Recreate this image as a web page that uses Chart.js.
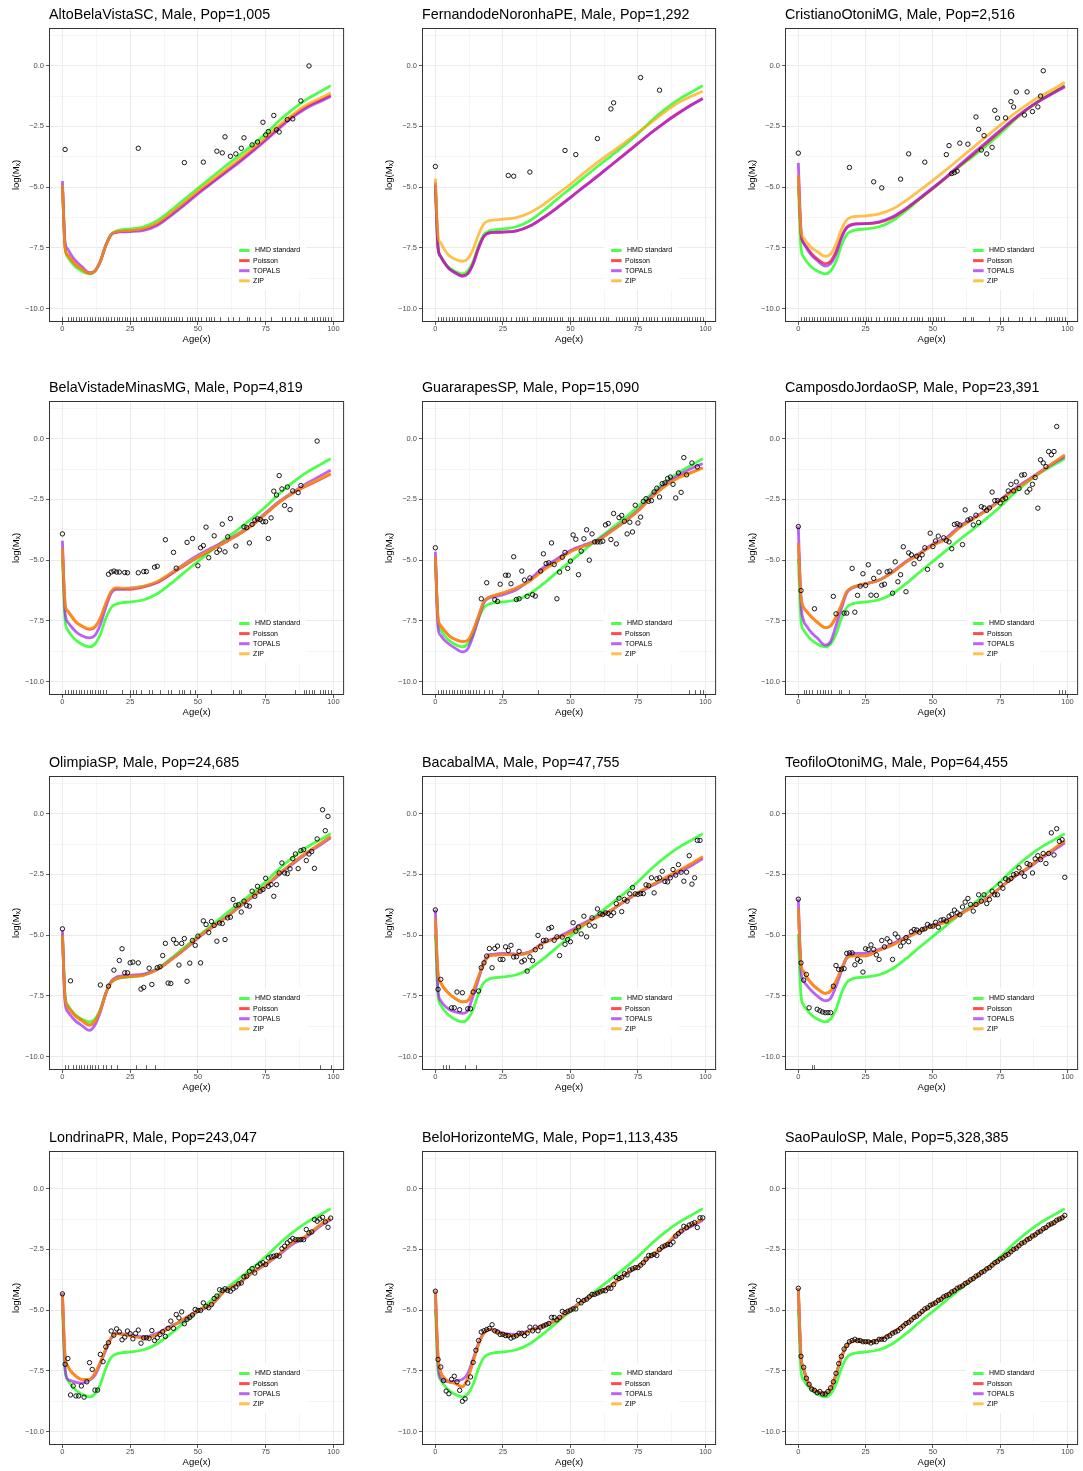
<!DOCTYPE html>
<html>
<head>
<meta charset="utf-8">
<script src="https://cdn.jsdelivr.net/npm/chart.js@4.4.1/dist/chart.umd.min.js"></script>
<style>
  html, body { margin: 0; padding: 0; background: #fff; }
  #wrap { position: relative; width: 1083px; height: 1471px; overflow: hidden; }
  #wrap canvas { position: absolute; }
</style>
</head>
<body>
<div id="wrap"></div>
<script>
// ---- data ----
const titles = [
  "AltoBelaVistaSC, Male, Pop=1,005",
  "FernandodeNoronhaPE, Male, Pop=1,292",
  "CristianoOtoniMG, Male, Pop=2,516",
  "BelaVistadeMinasMG, Male, Pop=4,819",
  "GuararapesSP, Male, Pop=15,090",
  "CamposdoJordaoSP, Male, Pop=23,391",
  "OlimpiaSP, Male, Pop=24,685",
  "BacabalMA, Male, Pop=47,755",
  "TeofiloOtoniMG, Male, Pop=64,455",
  "LondrinaPR, Male, Pop=243,047",
  "BeloHorizonteMG, Male, Pop=1,113,435",
  "SaoPauloSP, Male, Pop=5,328,385"
];
const seriesNames = [" HMD standard", "Poisson", "TOPALS", "ZIP"];
const xTicks = [0, 12.5, 25, 37.5, 50, 62.5, 75, 87.5, 100];
const yTicks = [-10, -8.75, -7.5, -6.25, -5, -3.75, -2.5, -1.25, 0, 1.25];

// ages at which the fitted curves were read
const curveAges = [0,1,2,3,5,7,10,12,14,16,18,20,22,25,30,35,40,45,50,55,60,65,70,75,80,85,90,95,99];
const hmdStandard = [-4.95,-7.5,-7.88,-8.05,-8.3,-8.45,-8.57,-8.45,-8.05,-7.4,-6.95,-6.8,-6.75,-6.72,-6.63,-6.38,-5.97,-5.5,-5.05,-4.6,-4.15,-3.72,-3.28,-2.8,-2.27,-1.8,-1.4,-1.08,-0.82];

// 1 AltoBelaVistaSC
const p1Poisson = [-4.9,-7.5,-7.8,-7.95,-8.2,-8.35,-8.55,-8.45,-8.05,-7.4,-6.95,-6.85,-6.82,-6.8,-6.73,-6.52,-6.12,-5.68,-5.22,-4.8,-4.37,-3.95,-3.5,-3.03,-2.53,-2.07,-1.7,-1.43,-1.22];
const p1Topals  = [-4.75,-7.3,-7.55,-7.75,-8.05,-8.25,-8.52,-8.45,-8.05,-7.4,-6.95,-6.86,-6.84,-6.83,-6.78,-6.58,-6.18,-5.74,-5.28,-4.85,-4.42,-4.0,-3.55,-3.08,-2.58,-2.12,-1.75,-1.48,-1.27];
const p1Zip     = [-4.9,-7.5,-7.8,-7.95,-8.2,-8.35,-8.55,-8.45,-8.05,-7.4,-6.95,-6.83,-6.8,-6.78,-6.7,-6.47,-6.06,-5.62,-5.15,-4.72,-4.3,-3.87,-3.42,-2.95,-2.45,-2.0,-1.62,-1.34,-1.12];
const p1Points = [[1,-3.45],[28,-3.4],[45,-3.99],[52,-3.97],[57,-3.52],[59,-3.59],[60,-2.93],[62,-3.73],[64,-3.63],[66,-3.4],[67,-2.97],[70,-3.26],[72,-3.14],[74,-2.33],[75,-2.85],[76,-2.71],[78,-2.05],[79,-2.64],[80,-2.73],[83,-2.22],[85,-2.19],[88,-1.45],[91,-0.01]];
const p1Rug = [0,2,3,4,5,6,7,8,9,10,11,12,13,14,15,16,17,18,19,20,21,22,23,24,25,26,27,29,30,31,32,33,34,35,36,37,38,39,40,41,42,43,44,46,47,48,49,50,51,53,54,55,56,58,61,63,65,68,69,71,73,77,81,82,84,86,87,89,90,92,93,94,95,96,97,98,99];

// 2 FernandodeNoronhaPE
const p2Poisson = [-4.9,-7.5,-7.85,-8.05,-8.35,-8.5,-8.65,-8.55,-8.15,-7.5,-7.02,-6.88,-6.86,-6.85,-6.8,-6.6,-6.25,-5.85,-5.42,-4.98,-4.55,-4.1,-3.65,-3.2,-2.75,-2.33,-1.95,-1.6,-1.35];
const p2Topals  = [-4.8,-7.5,-7.85,-8.05,-8.35,-8.5,-8.67,-8.57,-8.15,-7.5,-7.02,-6.88,-6.86,-6.85,-6.8,-6.6,-6.26,-5.86,-5.43,-4.99,-4.56,-4.11,-3.66,-3.21,-2.76,-2.34,-1.96,-1.61,-1.36];
const p2Zip     = [-4.65,-7.0,-7.3,-7.5,-7.8,-7.95,-8.05,-7.95,-7.55,-6.95,-6.5,-6.38,-6.35,-6.32,-6.25,-6.05,-5.72,-5.3,-4.88,-4.42,-3.98,-3.58,-3.18,-2.76,-2.33,-1.9,-1.52,-1.25,-1.05];
const p2Points = [[0,-4.15],[27,-4.52],[29,-4.55],[35,-4.38],[48,-3.49],[52,-3.66],[60,-3.0],[65,-1.78],[66,-1.53],[76,-0.49],[83,-1.01]];
const p2Rug = [1,2,3,4,5,6,7,8,9,10,11,12,13,14,15,16,17,18,19,20,21,22,23,24,25,26,28,30,31,32,33,34,36,37,38,39,40,41,42,43,44,45,46,47,49,50,51,53,54,55,56,57,58,59,61,62,63,64,67,68,69,70,71,72,73,74,75,77,78,79,80,81,82,84,85,86,87,88,89,90,91,92,93,94,95,96,97,98,99];

// 3 CristianoOtoniMG
const p3Poisson = [-4.5,-6.9,-7.3,-7.45,-7.75,-7.95,-8.15,-8.05,-7.65,-7.05,-6.65,-6.53,-6.5,-6.5,-6.45,-6.25,-5.9,-5.48,-5.05,-4.6,-4.12,-3.65,-3.18,-2.7,-2.22,-1.8,-1.43,-1.1,-0.85];
const p3Topals  = [-4.0,-6.8,-7.3,-7.5,-7.82,-8.02,-8.25,-8.15,-7.75,-7.1,-6.68,-6.55,-6.52,-6.5,-6.43,-6.22,-5.87,-5.45,-5.02,-4.57,-4.08,-3.6,-3.13,-2.66,-2.2,-1.78,-1.42,-1.12,-0.88];
const p3Zip     = [-4.5,-6.8,-7.1,-7.25,-7.5,-7.65,-7.85,-7.75,-7.35,-6.75,-6.35,-6.22,-6.2,-6.18,-6.1,-5.9,-5.55,-5.14,-4.72,-4.28,-3.82,-3.36,-2.9,-2.45,-2.0,-1.6,-1.25,-0.95,-0.68];
const p3Points = [[0,-3.6],[19,-4.19],[28,-4.78],[31,-5.03],[38,-4.67],[41,-3.63],[47,-3.97],[55,-3.66],[56,-3.29],[57,-4.44],[58,-4.4],[59,-4.34],[60,-3.19],[63,-3.23],[66,-2.11],[67,-2.62],[68,-3.47],[69,-2.88],[70,-3.63],[72,-3.36],[73,-1.84],[74,-2.16],[77,-2.15],[79,-1.48],[80,-1.7],[81,-1.08],[84,-2.03],[85,-1.08],[87,-1.89],[89,-1.7],[90,-1.25],[91,-0.21]];
const p3Rug = [1,2,3,4,5,6,7,8,9,10,11,12,13,14,15,16,17,18,20,21,22,23,24,25,26,27,29,30,32,33,34,35,36,37,39,40,42,43,44,45,46,48,49,50,51,52,53,54,61,62,64,65,71,75,76,78,82,83,86,88,92,93,94,95,96,97,98,99];

// 4 BelaVistadeMinasMG
const p4Poisson = [-4.5,-6.8,-7.1,-7.25,-7.55,-7.7,-7.85,-7.75,-7.4,-6.8,-6.3,-6.15,-6.18,-6.2,-6.1,-5.92,-5.58,-5.22,-4.88,-4.57,-4.27,-3.95,-3.57,-3.1,-2.62,-2.25,-1.95,-1.68,-1.45];
const p4Topals  = [-4.2,-7.2,-7.55,-7.7,-7.95,-8.1,-8.2,-8.1,-7.65,-6.95,-6.35,-6.2,-6.2,-6.15,-6.08,-5.9,-5.55,-5.15,-4.8,-4.5,-4.22,-3.9,-3.52,-3.05,-2.58,-2.2,-1.85,-1.55,-1.3];
const p4Zip     = [-4.5,-6.8,-7.1,-7.25,-7.55,-7.7,-7.82,-7.72,-7.38,-6.78,-6.28,-6.13,-6.15,-6.15,-6.07,-5.88,-5.53,-5.18,-4.86,-4.55,-4.25,-3.92,-3.55,-3.08,-2.6,-2.22,-1.92,-1.65,-1.42];
const p4Points = [[0,-3.92],[17,-5.58],[18,-5.49],[19,-5.45],[20,-5.49],[21,-5.49],[23,-5.51],[24,-5.52],[28,-5.52],[30,-5.47],[31,-5.47],[34,-5.29],[35,-5.25],[38,-4.16],[41,-4.68],[42,-5.33],[46,-4.27],[48,-4.11],[50,-5.23],[51,-4.49],[52,-4.4],[53,-3.64],[54,-4.9],[56,-4.0],[57,-4.68],[58,-4.58],[59,-3.52],[60,-4.66],[61,-4.04],[62,-3.29],[64,-4.42],[67,-3.63],[68,-3.66],[69,-4.29],[70,-3.53],[71,-3.36],[72,-3.3],[73,-3.33],[74,-3.42],[75,-3.42],[76,-4.11],[77,-3.26],[78,-2.16],[79,-2.32],[80,-1.52],[81,-2.07],[82,-2.75],[83,-1.99],[84,-2.92],[85,-2.15],[87,-2.22],[88,-1.93],[94,-0.1]];
const p4Rug = [1,2,3,4,5,6,7,8,9,10,11,12,13,14,15,16,22,25,26,27,29,32,33,36,39,40,43,44,45,47,49,55,63,65,66,86,89,90,91,92,93,95,96,97,98,99];

// 5 GuararapesSP (index = age, null = no death)
const p5Poisson = [-4.85,-7.4,-7.7,-7.85,-8.1,-8.25,-8.35,-8.3,-7.9,-7.3,-6.7,-6.52,-6.45,-6.35,-6.15,-5.85,-5.4,-5.05,-4.65,-4.42,-4.2,-3.82,-3.42,-2.98,-2.42,-1.95,-1.6,-1.38,-1.2];
const p5Topals  = [-4.65,-7.8,-8.1,-8.25,-8.45,-8.6,-8.78,-8.65,-8.1,-7.4,-6.75,-6.55,-6.5,-6.42,-6.22,-5.8,-5.3,-4.95,-4.6,-4.38,-4.17,-3.8,-3.42,-2.95,-2.35,-1.88,-1.5,-1.22,-1.02];
const p5Zip     = [-4.85,-7.4,-7.7,-7.85,-8.1,-8.25,-8.36,-8.3,-7.9,-7.3,-6.7,-6.52,-6.45,-6.35,-6.15,-5.86,-5.42,-5.06,-4.66,-4.42,-4.2,-3.82,-3.42,-2.98,-2.43,-1.96,-1.62,-1.4,-1.22];
const p5Rates = [-4.49,null,null,null,null,null,null,null,null,null,null,null,null,null,null,null,null,-6.59,null,-5.93,null,null,-6.63,-6.7,-5.99,null,-5.62,-5.62,-5.97,-4.86,-6.62,-6.59,-5.45,-5.82,-6.49,-5.73,-6.42,-6.48,null,-5.45,-4.74,-5.14,-5.11,-4.29,-5.18,-6.59,-5.49,-4.88,-4.68,-5.34,-5.04,-3.96,-4.14,-5.6,-4.63,-4.12,-3.75,-5.0,-3.92,-4.25,-4.25,-4.25,-4.22,-3.55,-3.49,-4.15,-3.08,-4.33,-3.25,-3.16,-3.4,-3.92,-3.44,-3.84,-2.74,-3.47,-3.23,-2.58,-2.47,-2.58,-2.55,-2.19,-2.04,-2.4,-1.85,-1.82,-1.64,-1.58,-1.88,-2.44,-1.41,-2.21,-0.78,-1.49,null,-1.0,null,-1.16,null,null];
const p5Rug = [1,2,3,4,5,6,7,8,9,10,11,12,13,14,15,16,18,20,21,25,38,94,96,98,99];

// 6 CamposdoJordaoSP
const p6Poisson = [-4.3,-6.5,-6.95,-7.1,-7.35,-7.55,-7.78,-7.7,-7.35,-6.85,-6.3,-6.12,-6.05,-5.97,-5.82,-5.5,-5.08,-4.75,-4.38,-4.12,-3.65,-3.3,-2.95,-2.55,-2.12,-1.75,-1.38,-0.98,-0.68];
const p6Topals  = [-3.6,-6.8,-7.5,-7.7,-8.0,-8.2,-8.5,-8.35,-7.7,-7.0,-6.35,-6.15,-6.07,-5.98,-5.82,-5.48,-5.05,-4.72,-4.33,-4.08,-3.6,-3.27,-2.92,-2.52,-2.08,-1.72,-1.35,-1.0,-0.75];
const p6Zip     = [-4.3,-6.5,-6.95,-7.1,-7.35,-7.55,-7.77,-7.69,-7.34,-6.84,-6.3,-6.12,-6.05,-5.97,-5.82,-5.5,-5.08,-4.75,-4.38,-4.12,-3.66,-3.31,-2.95,-2.56,-2.13,-1.76,-1.38,-0.98,-0.66];
const p6Rates = [-3.62,-6.25,null,null,null,null,-7.0,null,null,null,null,null,null,-6.49,-7.21,null,null,-7.18,-7.18,null,-5.34,-7.14,-6.45,-6.07,-5.56,-6.04,-5.19,-6.44,-5.75,-6.45,-5.49,-6.03,-5.99,-5.48,-5.45,-6.36,-5.07,-5.89,-5.6,-4.45,-6.3,-4.7,-4.78,-5.15,-4.84,-4.93,-4.78,-4.49,-5.38,-3.89,-4.44,-4.21,-4.01,-5.21,-4.08,-4.19,-4.25,-4.53,-3.53,-3.5,-3.55,-4.36,-2.93,-3.35,-3.3,-3.55,-3.15,-3.45,-2.8,-2.85,-2.95,-2.85,-2.2,-2.55,-2.55,-2.65,-2.5,-2.45,-2.15,-1.88,-2.15,-1.78,-2.05,-1.5,-1.48,-2.2,-2.08,-1.88,-1.6,-2.86,-0.87,-1.0,-1.15,-0.53,-0.66,-0.53,0.5,null,null,null];
const p6Rug = [2,3,4,5,7,8,9,10,11,12,15,16,19,97,98,99];

// 7 OlimpiaSP
const p7Poisson = [-5.0,-7.6,-7.95,-8.1,-8.35,-8.5,-8.7,-8.55,-8.1,-7.4,-6.95,-6.78,-6.73,-6.7,-6.65,-6.42,-6.02,-5.58,-5.1,-4.68,-4.3,-3.85,-3.42,-2.97,-2.47,-2.02,-1.62,-1.25,-0.95];
const p7Topals  = [-4.8,-7.8,-8.15,-8.3,-8.55,-8.7,-8.92,-8.7,-8.15,-7.4,-6.9,-6.72,-6.68,-6.65,-6.6,-6.4,-6.02,-5.6,-5.12,-4.7,-4.3,-3.87,-3.45,-3.0,-2.52,-2.07,-1.65,-1.3,-1.0];
const p7Zip     = [-5.0,-7.6,-7.95,-8.1,-8.35,-8.5,-8.69,-8.54,-8.1,-7.4,-6.95,-6.78,-6.73,-6.7,-6.65,-6.42,-6.02,-5.58,-5.1,-4.68,-4.3,-3.85,-3.42,-2.97,-2.47,-2.02,-1.62,-1.25,-0.94];
const p7Rates = [-4.74,null,null,-6.88,null,null,null,null,null,null,null,null,null,null,-7.05,null,null,-7.1,null,-6.44,null,-6.04,-5.56,-6.55,-6.55,-6.14,-6.11,null,-6.14,-7.22,-7.15,null,-6.36,-7.03,null,-6.34,-6.3,-5.84,-5.34,-6.97,-6.99,-5.18,-5.34,-6.23,-5.34,-5.14,-6.9,-6.15,-5.22,-5.42,-5.04,-6.14,-4.41,-4.56,-4.89,-4.44,-4.6,-5.25,-4.5,-4.52,-5.18,-4.29,-4.26,-3.53,-3.77,-3.75,-4.05,-3.6,-3.78,-3.81,-3.19,-3.4,-2.99,-3.19,-3.12,-2.66,-2.99,-2.92,-3.4,-2.92,-2.44,-2.03,-2.44,-2.47,-2.27,-1.85,-1.66,-2.26,-1.52,-1.48,-1.93,-1.66,-1.56,-2.25,-1.04,null,0.16,-0.7,-0.11,null];
const p7Rug = [1,2,4,5,6,7,8,9,10,11,12,13,15,16,18,20,27,31,34,95,99];

// 8 BacabalMA
const p8Poisson = [-4.3,-6.6,-6.95,-7.15,-7.4,-7.58,-7.75,-7.7,-7.3,-6.7,-6.15,-5.85,-5.82,-5.8,-5.8,-5.7,-5.32,-5.12,-4.9,-4.55,-4.25,-3.98,-3.6,-3.25,-2.95,-2.65,-2.35,-2.05,-1.78];
const p8Topals  = [-3.95,-7.3,-7.7,-7.85,-8.05,-8.15,-8.22,-8.1,-7.5,-6.8,-6.1,-5.8,-5.78,-5.75,-5.78,-5.68,-5.3,-5.1,-4.82,-4.5,-4.22,-3.98,-3.62,-3.27,-2.98,-2.7,-2.42,-2.12,-1.85];
const p8Zip     = [-4.3,-6.6,-6.95,-7.15,-7.4,-7.58,-7.74,-7.69,-7.3,-6.7,-6.15,-5.85,-5.82,-5.8,-5.8,-5.7,-5.33,-5.13,-4.9,-4.55,-4.26,-3.98,-3.6,-3.25,-2.95,-2.65,-2.35,-2.04,-1.76];
const p8Rates = [-3.96,-7.23,-6.82,null,null,null,-7.99,-7.99,-7.34,-8.07,-7.37,null,-8.03,-8.03,-7.34,null,-7.3,-6.34,-6.14,-5.86,-5.55,-6.34,-5.55,-5.45,-6.0,-6.0,-5.48,-5.63,-5.42,-5.9,-5.89,-5.67,-6.1,-6.03,-6.48,-5.89,-6.05,-5.6,-5.01,-5.48,-5.22,-5.21,-4.73,-4.68,-5.21,-5.07,-5.84,-5.08,-5.38,-5.18,-5.27,-4.49,-4.84,-4.66,-4.95,-4.22,-5.07,-4.59,-4.29,-4.63,-3.92,-4.12,-4.15,-4.08,-4.11,-4.19,-4.08,-3.7,-3.48,-4.03,-3.53,-3.6,-3.3,-3.04,-3.3,-3.32,-3.29,-3.29,-2.93,-2.96,-2.64,-3.26,-2.68,-2.64,-2.37,-2.79,-2.81,-2.64,-2.3,-2.53,-2.1,-2.41,-2.78,-2.41,-1.73,-2.9,-2.64,-1.1,-1.1,null];
const p8Rug = [3,4,5,11,15];

// 9 TeofiloOtoniMG
const p9Poisson = [-3.9,-6.2,-6.5,-6.7,-7.0,-7.2,-7.4,-7.3,-6.9,-6.4,-5.95,-5.85,-5.85,-5.85,-5.62,-5.4,-5.12,-4.85,-4.62,-4.45,-4.15,-3.82,-3.5,-3.05,-2.6,-2.25,-1.82,-1.45,-1.12];
const p9Topals  = [-3.5,-6.5,-6.9,-7.05,-7.3,-7.5,-7.7,-7.6,-7.1,-6.5,-5.9,-5.75,-5.75,-5.75,-5.58,-5.35,-5.08,-4.82,-4.58,-4.4,-4.12,-3.8,-3.48,-3.05,-2.62,-2.28,-1.87,-1.5,-1.2];
const p9Zip     = [-3.9,-6.2,-6.5,-6.7,-7.0,-7.2,-7.39,-7.29,-6.9,-6.4,-5.95,-5.85,-5.85,-5.84,-5.62,-5.4,-5.12,-4.85,-4.62,-4.45,-4.15,-3.82,-3.5,-3.05,-2.6,-2.25,-1.82,-1.44,-1.1];
const p9Rates = [-3.52,-6.14,-6.85,-6.62,-7.99,null,null,-8.05,-8.11,-8.16,-8.19,-8.19,-8.19,-7.1,-6.25,-6.41,-6.4,-6.38,-5.75,-5.73,-5.73,-6.22,-6.0,-6.08,-6.52,-5.56,-5.59,-5.4,-5.59,-5.81,-6.0,-5.22,-5.48,-5.15,-5.27,-6.0,-4.95,-5.08,-5.45,-5.29,-5.1,-5.27,-4.86,-4.77,-4.79,-4.88,-4.77,-4.74,-4.56,-4.63,-4.63,-4.47,-4.67,-4.38,-4.36,-4.42,-4.22,-4.15,-3.97,-4.08,-4.16,-3.84,-3.64,-3.49,-3.74,-4.01,-3.74,-3.34,-3.6,-3.34,-3.7,-3.53,-3.19,-3.34,-3.34,-2.9,-3.07,-2.68,-2.74,-2.67,-2.51,-2.47,-2.23,-2.44,-2.58,-2.05,-2.1,-2.44,-1.86,-1.73,-1.89,-1.64,-2.05,-1.64,-0.79,-1.7,-0.62,-1.14,-1.07,-2.62];
const p9Rug = [5,6];

// 10 LondrinaPR
const p10Poisson = [-4.35,-6.9,-7.3,-7.5,-7.72,-7.85,-7.85,-7.6,-7.15,-6.6,-6.15,-5.95,-6.0,-6.05,-6.15,-6.0,-5.7,-5.35,-5.02,-4.77,-4.2,-3.9,-3.45,-3.1,-2.68,-2.22,-1.95,-1.5,-1.22];
const p10Topals  = [-4.3,-7.4,-7.85,-7.9,-7.97,-8.0,-7.88,-7.68,-7.2,-6.65,-6.15,-5.95,-5.98,-6.02,-6.1,-5.95,-5.65,-5.42,-5.05,-4.78,-4.2,-3.92,-3.47,-3.12,-2.72,-2.28,-2.0,-1.55,-1.28];
const p10Zip     = [-4.35,-6.9,-7.3,-7.5,-7.72,-7.85,-7.85,-7.6,-7.15,-6.6,-6.15,-5.95,-6.0,-6.05,-6.15,-6.0,-5.7,-5.35,-5.02,-4.77,-4.2,-3.9,-3.45,-3.1,-2.68,-2.22,-1.95,-1.5,-1.21];
const p10Rates = [-4.33,-7.23,-6.99,-8.49,-8.12,-8.53,-8.53,-8.12,-8.58,-7.95,-7.16,-7.44,-8.29,-8.29,-6.82,-7.12,-6.51,-6.34,-5.86,-6.03,-5.77,-5.89,-6.22,-6.11,-5.86,-5.97,-6.18,-5.96,-5.82,-6.36,-6.14,-6.14,-6.16,-5.84,-6.25,-6.14,-6.0,-5.89,-6.08,-5.75,-5.45,-5.75,-5.18,-5.32,-5.07,-5.56,-5.38,-5.3,-5.2,-4.97,-5.01,-5.01,-4.7,-4.84,-4.9,-4.77,-4.52,-4.42,-4.16,-4.19,-4.12,-4.19,-4.22,-4.12,-4.05,-3.92,-3.88,-3.63,-3.6,-3.4,-3.29,-3.47,-3.19,-3.1,-3.05,-3.12,-2.85,-2.81,-2.78,-2.75,-2.78,-2.47,-2.37,-2.23,-2.14,-2.05,-2.1,-2.1,-2.1,-2.1,-1.68,-1.82,-1.78,-1.27,-1.34,-1.25,-1.18,-1.37,-1.59,-1.21];
const p10Rug = [];

// 11 BeloHorizonteMG
const p11Poisson = [-4.2,-6.9,-7.55,-7.75,-7.95,-8.0,-8.15,-7.8,-7.1,-6.4,-5.95,-5.8,-5.85,-6.0,-6.05,-5.85,-5.65,-5.4,-5.0,-4.6,-4.3,-4.0,-3.55,-3.2,-2.75,-2.35,-1.8,-1.5,-1.25];
const p11Topals  = [-4.2,-7.2,-7.8,-7.9,-7.95,-7.92,-7.85,-7.6,-7.0,-6.35,-5.92,-5.78,-5.82,-5.95,-6.0,-5.82,-5.62,-5.38,-4.98,-4.58,-4.28,-3.98,-3.55,-3.22,-2.78,-2.38,-1.85,-1.55,-1.3];
const p11Zip     = [-4.2,-6.9,-7.55,-7.75,-7.95,-8.0,-8.14,-7.8,-7.1,-6.4,-5.95,-5.8,-5.85,-6.0,-6.05,-5.85,-5.65,-5.4,-5.0,-4.6,-4.3,-4.0,-3.55,-3.2,-2.75,-2.35,-1.8,-1.5,-1.24];
const p11Rates = [-4.22,-7.03,-7.34,-7.9,-8.33,-8.44,-7.85,-7.72,-7.95,-8.3,-8.75,-8.65,-8.0,-7.75,-7.15,-6.65,-6.25,-5.9,-5.85,-5.8,-5.75,-5.6,-5.85,-5.9,-6.0,-6.0,-6.05,-6.05,-6.15,-6.1,-6.05,-5.95,-5.95,-6.05,-5.95,-5.7,-5.85,-5.7,-5.85,-5.7,-5.65,-5.6,-5.55,-5.3,-5.3,-5.4,-5.3,-5.05,-5.1,-5.05,-5.0,-4.95,-4.95,-4.6,-4.7,-4.6,-4.55,-4.45,-4.35,-4.35,-4.3,-4.25,-4.2,-4.2,-4.1,-4.1,-3.95,-3.65,-3.7,-3.65,-3.5,-3.55,-3.35,-3.3,-3.25,-3.25,-3.15,-3.05,-2.9,-2.75,-2.75,-2.7,-2.75,-2.5,-2.4,-2.35,-2.3,-2.3,-2.2,-1.95,-1.85,-1.75,-1.55,-1.6,-1.5,-1.45,-1.4,-1.6,-1.2,-1.2];
const p11Rug = [];

// 12 SaoPauloSP
const p12Poisson = [-4.1,-6.9,-7.4,-7.8,-8.2,-8.35,-8.42,-8.25,-7.65,-6.95,-6.45,-6.28,-6.25,-6.3,-6.22,-5.92,-5.55,-5.15,-4.75,-4.4,-4.05,-3.7,-3.3,-2.9,-2.5,-2.1,-1.75,-1.4,-1.12];
const p12Topals  = [-4.1,-6.95,-7.45,-7.85,-8.22,-8.37,-8.43,-8.25,-7.65,-6.95,-6.45,-6.28,-6.25,-6.3,-6.22,-5.92,-5.55,-5.15,-4.75,-4.4,-4.05,-3.7,-3.3,-2.9,-2.5,-2.1,-1.75,-1.4,-1.13];
const p12Zip     = [-4.1,-6.9,-7.4,-7.8,-8.2,-8.35,-8.42,-8.25,-7.65,-6.95,-6.45,-6.28,-6.25,-6.3,-6.22,-5.92,-5.55,-5.15,-4.75,-4.4,-4.05,-3.7,-3.3,-2.9,-2.5,-2.1,-1.75,-1.4,-1.11];
const p12Rates = [-4.1,-6.9,-7.35,-7.8,-8.05,-8.25,-8.3,-8.4,-8.35,-8.45,-8.45,-8.35,-8.2,-7.95,-7.6,-7.2,-6.9,-6.6,-6.45,-6.3,-6.25,-6.2,-6.25,-6.25,-6.3,-6.3,-6.3,-6.35,-6.3,-6.3,-6.2,-6.2,-6.2,-6.1,-6.05,-5.95,-5.9,-5.85,-5.75,-5.65,-5.55,-5.5,-5.4,-5.3,-5.25,-5.15,-5.05,-4.95,-4.9,-4.8,-4.75,-4.7,-4.6,-4.55,-4.45,-4.4,-4.35,-4.25,-4.2,-4.1,-4.05,-4.0,-3.9,-3.85,-3.75,-3.7,-3.6,-3.55,-3.45,-3.4,-3.3,-3.25,-3.15,-3.05,-3.0,-2.9,-2.85,-2.75,-2.7,-2.6,-2.5,-2.45,-2.35,-2.25,-2.2,-2.1,-2.05,-1.95,-1.9,-1.8,-1.75,-1.65,-1.6,-1.5,-1.45,-1.4,-1.3,-1.25,-1.2,-1.1];
const p12Rug = [];

// ---- assemble ----
const fits = [
  [p1Poisson, p1Topals, p1Zip], [p2Poisson, p2Topals, p2Zip], [p3Poisson, p3Topals, p3Zip],
  [p4Poisson, p4Topals, p4Zip], [p5Poisson, p5Topals, p5Zip], [p6Poisson, p6Topals, p6Zip],
  [p7Poisson, p7Topals, p7Zip], [p8Poisson, p8Topals, p8Zip], [p9Poisson, p9Topals, p9Zip],
  [p10Poisson, p10Topals, p10Zip], [p11Poisson, p11Topals, p11Zip], [p12Poisson, p12Topals, p12Zip]
];
const pairsToXY = arr => arr.map(p => ({x: p[0], y: p[1]}));
const ratesToXY = arr => arr.map((v, age) => v === null ? null : {x: age, y: v}).filter(Boolean);
const observed = [
  pairsToXY(p1Points), pairsToXY(p2Points), pairsToXY(p3Points), pairsToXY(p4Points),
  ratesToXY(p5Rates), ratesToXY(p6Rates), ratesToXY(p7Rates), ratesToXY(p8Rates),
  ratesToXY(p9Rates), ratesToXY(p10Rates), ratesToXY(p11Rates), ratesToXY(p12Rates)
];
const rugs = [p1Rug, p2Rug, p3Rug, p4Rug, p5Rug, p6Rug, p7Rug, p8Rug, p9Rug, p10Rug, p11Rug, p12Rug];

const COLORS = ["rgba(0,255,0,0.7)", "rgba(255,0,0,0.7)", "rgba(160,32,240,0.7)", "rgba(255,165,0,0.7)"];
const FONT = '"Liberation Sans", Arial, Helvetica, sans-serif';
Chart.defaults.font.family = FONT;

const colLeft = [0, 373, 736];
const colWidth = [349, 348, 347];
const rowTop = [0, 373, 748, 1123];
const CANVAS_H = 348;

const xMajor = v => Math.abs(v % 25) < 1e-6;
const yMajor = v => Math.abs(v % 2.5) < 1e-6;
const fmtY = v => v.toFixed(1).replace("-", "\u2212");

// titles, axis titles, border, rug and in-panel legend
const panelDecor = {
  id: "panelDecor",
  afterDatasetsDraw(chart, args, opts) {
    const ctx = chart.ctx;
    const {left, right, top, bottom} = chart.chartArea;
    const xs = chart.scales.x;
    ctx.save();
    ctx.strokeStyle = "rgba(30,30,30,0.9)";
    ctx.lineWidth = 0.8;
    ctx.beginPath();
    opts.rug.forEach(a => {
      const px = Math.round(xs.getPixelForValue(a)) + 0.5;
      ctx.moveTo(px, bottom);
      ctx.lineTo(px, bottom - 4.8);
    });
    ctx.stroke();
    ctx.strokeStyle = "#333333";
    ctx.lineWidth = 1;
    ctx.strokeRect(left + 0.5, top + 0.5, right - left - 1, bottom - top - 1);
    ctx.restore();
  },
  afterDraw(chart, args, opts) {
    const ctx = chart.ctx;
    const {left, right, top, bottom} = chart.chartArea;
    ctx.save();
    // legend box
    ctx.fillStyle = "#ffffff";
    ctx.fillRect(right - 112, bottom - 82, 74, 50);
    const labels = chart.data.datasets.slice(1).map(d => d.label).reverse();
    labels.forEach((lab, i) => {
      const y = bottom - 71.5 + i * 10.1;
      ctx.strokeStyle = COLORS[i];
      ctx.lineWidth = 3;
      ctx.beginPath();
      ctx.moveTo(right - 105, y);
      ctx.lineTo(right - 94.5, y);
      ctx.stroke();
      ctx.fillStyle = "#000";
      ctx.font = "7px " + FONT;
      ctx.textAlign = "left";
      ctx.textBaseline = "middle";
      ctx.fillText(lab, right - 91, y);
    });
    // panel title
    ctx.fillStyle = "#000";
    ctx.font = "14.3px " + FONT;
    ctx.textAlign = "left";
    ctx.textBaseline = "alphabetic";
    ctx.fillText(opts.title, left, top - 9);
    // x axis title
    ctx.font = "9.5px " + FONT;
    ctx.textAlign = "center";
    ctx.textBaseline = "middle";
    ctx.fillText("Age(x)", (left + right) / 2, bottom + 17);
    // y axis title with subscript x
    ctx.translate(left - 33, (top + bottom) / 2);
    ctx.rotate(-Math.PI / 2);
    ctx.textAlign = "left";
    ctx.textBaseline = "middle";
    ctx.font = "9.5px " + FONT;
    const w1 = ctx.measureText("log(M").width;
    ctx.font = "6.5px " + FONT;
    const w2 = ctx.measureText("x").width;
    ctx.font = "9.5px " + FONT;
    const w3 = ctx.measureText(")").width;
    const x0 = -(w1 + w2 + w3) / 2;
    ctx.fillText("log(M", x0, 0);
    ctx.font = "6.5px " + FONT;
    ctx.fillText("x", x0 + w1, 2.5);
    ctx.font = "9.5px " + FONT;
    ctx.fillText(")", x0 + w1 + w2, 0);
    ctx.restore();
  }
};

const wrap = document.getElementById("wrap");

titles.forEach((title, k) => {
  const c = k % 3, r = Math.floor(k / 3);
  const canvas = document.createElement("canvas");
  canvas.width = colWidth[c];
  canvas.height = CANVAS_H;
  canvas.style.left = colLeft[c] + "px";
  canvas.style.top = rowTop[r] + "px";
  canvas.style.width = colWidth[c] + "px";
  canvas.style.height = CANVAS_H + "px";
  wrap.appendChild(canvas);

  const curves = [hmdStandard].concat(fits[k]);
  const lineSets = curves.map((vals, i) => ({
    label: seriesNames[i],
    data: curveAges.map((a, j) => ({x: a, y: vals[j]})),
    borderColor: COLORS[i],
    borderWidth: 2.8,
    pointRadius: 0,
    fill: false,
    cubicInterpolationMode: "monotone",
    order: 4 - i
  }));

  new Chart(canvas.getContext("2d"), {
    type: "line",
    data: {
      datasets: [{
        label: "observed",
        data: observed[k],
        showLine: false,
        pointRadius: 2.2,
        pointBorderWidth: 0.9,
        pointBorderColor: "#000",
        pointBackgroundColor: "rgba(0,0,0,0)",
        order: 0
      }].concat(lineSets.slice().reverse())
    },
    options: {
      responsive: false,
      animation: false,
      events: [],
      devicePixelRatio: 1,
      layout: {padding: {top: 28, right: 3, left: 0, bottom: 0}},
      plugins: {
        legend: {display: false},
        tooltip: {enabled: false},
        title: {display: false},
        panelDecor: {title: title, rug: rugs[k]}
      },
      scales: {
        x: {
          type: "linear",
          min: -4.95,
          max: 103.95,
          afterBuildTicks: s => { s.ticks = xTicks.map(v => ({value: v})); },
          afterFit: s => { s.height = 26; },
          border: {display: false},
          grid: {
            color: "#ebebeb",
            lineWidth: ctx => (ctx.tick && xMajor(ctx.tick.value)) ? 1 : 0.5,
            tickLength: 3,
            tickWidth: 0.8,
            tickColor: ctx => (ctx.tick && xMajor(ctx.tick.value)) ? "#333333" : "rgba(0,0,0,0)"
          },
          ticks: {
            autoSkip: false,
            maxRotation: 0,
            padding: 0,
            color: "#4d4d4d",
            font: {size: 7.5, lineHeight: 1},
            callback: v => xMajor(v) ? String(v) : ""
          }
        },
        y: {
          type: "linear",
          min: -10.55,
          max: 1.55,
          afterBuildTicks: s => { s.ticks = yTicks.map(v => ({value: v})); },
          afterFit: s => { s.width = 49; },
          border: {display: false},
          grid: {
            color: "#ebebeb",
            lineWidth: ctx => (ctx.tick && yMajor(ctx.tick.value)) ? 1 : 0.5,
            tickLength: 3,
            tickWidth: 0.8,
            tickColor: ctx => (ctx.tick && yMajor(ctx.tick.value)) ? "#333333" : "rgba(0,0,0,0)"
          },
          ticks: {
            autoSkip: false,
            padding: 2,
            color: "#4d4d4d",
            font: {size: 7.5},
            callback: v => yMajor(v) ? fmtY(v) : ""
          }
        }
      }
    },
    plugins: [panelDecor]
  });
});
</script>
</body>
</html>
